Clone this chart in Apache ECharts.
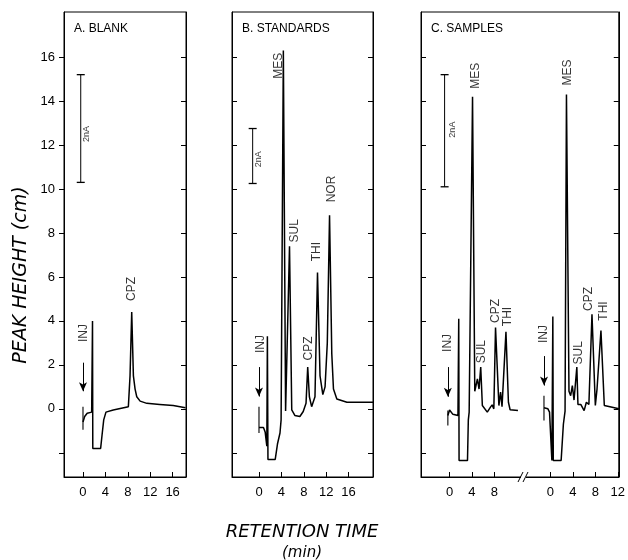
<!DOCTYPE html>
<html>
<head>
<meta charset="utf-8">
<script src="https://cdn.jsdelivr.net/npm/echarts@6.0.0/dist/echarts.min.js"></script>
<style>
  html, body { margin: 0; padding: 0; background: #fff; }
  #chart { width: 628px; height: 560px; }
</style>
</head>
<body>
<div id="chart"></div>
<script>
const panelNames = ['A. BLANK', 'B. STANDARDS', 'C. SAMPLES']
const timeTicks = [0, 4, 8, 12, 16]
const sample1Ticks = [0, 4, 8]
const sample2Ticks = [0, 4, 8, 12]
const samplesOffset = 18 // second sample is drawn after the axis break
const heightTicks = [-2, 0, 2, 4, 6, 8, 10, 12, 14, 16]
const heightLabels = [0, 2, 4, 6, 8, 10, 12, 14, 16]

// [min, cm]
const blankTrace = [
  [0.0, -0.6], [0.3, -0.35], [0.75, -0.2], [1.55, -0.15], [1.7, 4.0], [1.75, -1.8], [3.15, -1.8],
  [3.4, -1.2], [3.7, -0.5], [4.1, -0.15], [5.4, -0.05], [8.1, 0.1], [8.4, 1.5], [8.7, 4.4],
  [9.0, 1.5], [9.3, 0.9], [9.6, 0.55], [10.2, 0.35], [11.4, 0.25], [13.7, 0.2], [16.1, 0.15], [18.3, 0.05]
]
const standardsTrace = [
  [0.0, -0.85], [0.8, -0.85], [1.1, -1.05], [1.4, -1.7], [1.5, 3.3], [1.6, -2.3], [2.9, -2.3],
  [3.3, -1.6], [3.75, -1.1], [3.95, -0.5], [4.35, 16.3], [4.75, -0.1], [5.0, -0.1], [5.45, 7.4],
  [5.85, -0.05], [6.4, -0.3], [7.3, -0.35], [7.9, -0.12], [8.4, 0.25], [8.7, 1.9], [9.0, 0.55],
  [9.4, 0.1], [10.0, 0.55], [10.45, 6.2], [10.9, 1.5], [11.4, 0.65], [11.8, 1.0], [12.2, 3.0],
  [12.6, 8.8], [13.0, 2.5], [13.3, 0.9], [13.9, 0.45], [15.7, 0.3], [20.4, 0.3]
]
const sample1Trace = [
  [-0.3, -0.3], [0.0, -0.05], [0.3, 0.0], [0.6, -0.25], [0.9, -0.3], [1.5, -0.3], [1.64, 4.1],
  [1.7, -2.35], [3.2, -2.35], [3.35, -0.5], [3.5, -0.15], [3.8, -0.1], [4.1, 14.2], [4.5, 0.8],
  [4.97, 1.36], [5.26, 0.9], [5.56, 1.9], [5.85, 0.15], [6.14, 0.23], [6.73, -0.15], [7.0, -0.23],
  [7.3, 0.08], [7.6, 0.18], [7.9, 0.0], [8.2, 3.7], [8.8, 0.15], [9.1, 0.76], [9.36, 0.1],
  [10.06, 3.5], [10.5, 0.3], [10.8, -0.04], [12.2, -0.08]
]
const sample2Trace = [
  [-1.16, 0.05], [-0.9, 0.1], [-0.46, 0.0], [-0.17, -0.15], [0.25, -2.35], [0.42, 4.2], [0.5, -2.35],
  [1.9, -2.35], [2.3, -0.7], [2.6, -0.1], [2.85, 14.3], [3.3, 0.8], [3.6, 0.6], [3.9, 1.06],
  [4.2, 0.4], [4.7, 1.9], [4.9, 0.2], [5.4, 0.2], [6.0, -0.08], [6.4, 0.3], [6.85, 0.2], [7.4, 4.3],
  [8.0, 0.15], [8.3, 0.9], [9.0, 3.56], [9.6, 0.15], [9.95, 0.08], [12.2, 0.0]
]

// peak names: [label, min, cm]
const blankPeaks = [['INJ', 0.05, 3.45], ['CPZ', 8.7, 5.45]]
const standardsPeaks = [['INJ', 0.36, 2.95], ['MES', 3.45, 15.6], ['SUL', 6.3, 8.1], ['CPZ', 8.8, 2.75], ['THI', 10.3, 7.15], ['NOR', 13.0, 10.0]]
const sample1Peaks = [['INJ', -0.3, 3.0], ['MES', 4.7, 15.15], ['SUL', 5.7, 2.6], ['CPZ', 8.2, 4.45], ['THI', 10.35, 4.2]]
const sample2Peaks = [['INJ', -1.15, 3.4], ['MES', 3.05, 15.3], ['SUL', 5.1, 2.55], ['CPZ', 6.9, 5.0], ['THI', 9.5, 4.45]]

// injection marks and arrows: [min, from cm, to cm]
const blankInj = [[0.0, 0.1, -0.95]]
const standardsInj = [[0.0, 0.1, -1.1]]
const samplesInj = [[-0.3, -0.08, -0.76], [samplesOffset - 1.16, 0.6, -0.53]]
const blankArrow = [[0.0, 2.1, 0.8]]
const standardsArrow = [[0.0, 1.9, 0.56]]
const samplesArrow = [[-0.3, 1.9, 0.55], [samplesOffset - 1.15, 2.4, 1.06]]

// 2 nA calibration bars: [min, from cm, to cm]
const scaleBars = [[-0.4, 10.3, 15.2], [-1.13, 10.25, 12.75], [-0.88, 10.1, 15.2]]
const scaleLabelPos = [[0.66, 12.5], [0.0, 11.35], [0.5, 12.7]]

const ink = '#000'
const panels = [
  { left: 64, width: 122, xMin: -3.39, xMax: 18.39 },
  { left: 232, width: 141, xMin: -4.82, xMax: 20.36 },
  { left: 421, width: 201, xMin: -5.09, xMax: 30.18 }
]
const shift = (pts, dx) => pts.map(p => [p[0] + dx, p[1]])
const shiftPeaks = (pts, dx) => pts.map(p => [p[0], p[1] + dx, p[2]])

const traces = [[blankTrace], [standardsTrace], [sample1Trace, shift(sample2Trace, samplesOffset)]]
const peaks = [blankPeaks, standardsPeaks, sample1Peaks.concat(shiftPeaks(sample2Peaks, samplesOffset))]
const injMarks = [blankInj, standardsInj, samplesInj]
const arrows = [blankArrow, standardsArrow, samplesArrow]
const xTicks = [timeTicks, timeTicks, sample1Ticks.concat(sample2Ticks.map(t => t + samplesOffset))]

const chart = echarts.init(document.getElementById('chart'))

const grid = panels.map(p => ({
  left: p.left, width: p.width, top: 12, height: 465,
  show: true, borderColor: ink, borderWidth: 1, backgroundColor: 'transparent'
}))

const xAxis = panels.map((p, i) => ({
  gridIndex: i, type: 'value', min: p.xMin, max: p.xMax,
  splitLine: { show: false },
  axisLine: { show: true, onZero: false, lineStyle: { color: ink, width: 1 } },
  axisTick: { inside: true, length: 5, customValues: xTicks[i], lineStyle: { color: ink } },
  axisLabel: {
    customValues: xTicks[i], margin: 9, color: ink, fontSize: 13, fontFamily: 'Liberation Sans',
    formatter: v => String(i === 2 && v > 13 ? Math.round(v - samplesOffset) : Math.round(v))
  }
}))

const yAxis = []
panels.forEach((p, i) => {
  yAxis.push({
    gridIndex: i, type: 'value', min: -3.1, max: 18.05, position: 'left',
    splitLine: { show: false },
    axisLine: { show: true, onZero: false, lineStyle: { color: ink, width: 1 } },
    axisTick: { inside: i > 0, length: 5, customValues: heightTicks, lineStyle: { color: ink } },
    axisLabel: { show: i === 0, customValues: heightLabels, margin: 9, color: ink, fontSize: 13, fontFamily: 'Liberation Sans' }
  })
  yAxis.push({
    gridIndex: i, type: 'value', min: -3.1, max: 18.05, position: 'right',
    splitLine: { show: false },
    axisLine: { show: true, onZero: false, lineStyle: { color: ink, width: 1 } },
    axisTick: { inside: true, length: 5, customValues: heightTicks, lineStyle: { color: ink } },
    axisLabel: { show: false }
  })
})

const series = []
panels.forEach((p, i) => {
  const axes = { xAxisIndex: i, yAxisIndex: 2 * i }
  traces[i].forEach(tr => {
    series.push({
      type: 'line', ...axes, data: tr, showSymbol: false, symbol: 'none',
      lineStyle: { color: ink, width: 1.5 }
    })
  })
  injMarks[i].forEach(m => {
    series.push({
      type: 'line', ...axes, data: [[m[0], m[1]], [m[0], m[2]]], symbol: 'none',
      lineStyle: { color: ink, width: 1.1 }
    })
  })
  // scale bar, with the injection arrows as mark lines
  series.push({
    type: 'line', ...axes,
    data: [[scaleBars[i][0], scaleBars[i][1]], [scaleBars[i][0], scaleBars[i][2]]],
    symbol: 'rect', symbolSize: [8, 1.3], showSymbol: true,
    itemStyle: { color: ink }, lineStyle: { color: ink, width: 1 },
    markLine: {
      silent: true, symbol: ['none', 'arrow'], symbolSize: [6, 9],
      label: { show: false },
      lineStyle: { color: ink, width: 1, type: 'solid' },
      data: arrows[i].map(a => [{ coord: [a[0], a[1]] }, { coord: [a[0], a[2]] }])
    }
  })
  series.push({
    type: 'scatter', ...axes, symbolSize: 1, itemStyle: { color: 'rgba(0,0,0,0)' },
    data: peaks[i].map(pk => ({ name: pk[0], value: [pk[1], pk[2]] }))
      .concat([{ name: '2nA', value: scaleLabelPos[i], label: { fontSize: 9 } }]),
    label: {
      show: true, position: 'inside', rotate: 90, formatter: '{b}',
      color: ink, textBorderWidth: 0, fontSize: 12, fontFamily: 'Liberation Sans'
    }
  })
})

chart.setOption({
  animation: false,
  backgroundColor: '#fff',
  title: panels.map((p, i) => ({
    text: panelNames[i], left: p.left + 5, top: 18,
    textStyle: { fontSize: 12, fontWeight: 'normal', color: ink, fontFamily: 'Liberation Sans' }
  })),
  grid: grid,
  xAxis: xAxis,
  yAxis: yAxis,
  series: series,
  graphic: [
    {
      type: 'text', x: 21, y: 275, rotation: Math.PI / 2,
      style: { text: 'PEAK HEIGHT (cm)', font: 'italic 19px "DejaVu Sans"', fill: ink, textAlign: 'center', textVerticalAlign: 'middle' }
    },
    {
      type: 'text', x: 302, y: 532,
      style: { text: 'RETENTION TIME', font: 'italic 18px "DejaVu Sans"', fill: ink, textAlign: 'center', textVerticalAlign: 'middle' }
    },
    {
      type: 'text', x: 302, y: 553,
      style: { text: '(min)', font: 'italic 15px "DejaVu Sans"', fill: ink, textAlign: 'center', textVerticalAlign: 'middle' }
    },
    // axis break on the samples panel
    { type: 'rect', shape: { x: 521, y: 472, width: 5, height: 10 }, style: { fill: '#fff' }, z: 100 },
    { type: 'line', shape: { x1: 518, y1: 482, x2: 523, y2: 472 }, style: { stroke: ink, lineWidth: 1 }, z: 101 },
    { type: 'line', shape: { x1: 523, y1: 482, x2: 528, y2: 472 }, style: { stroke: ink, lineWidth: 1 }, z: 101 }
  ]
})
</script>
</body>
</html>
